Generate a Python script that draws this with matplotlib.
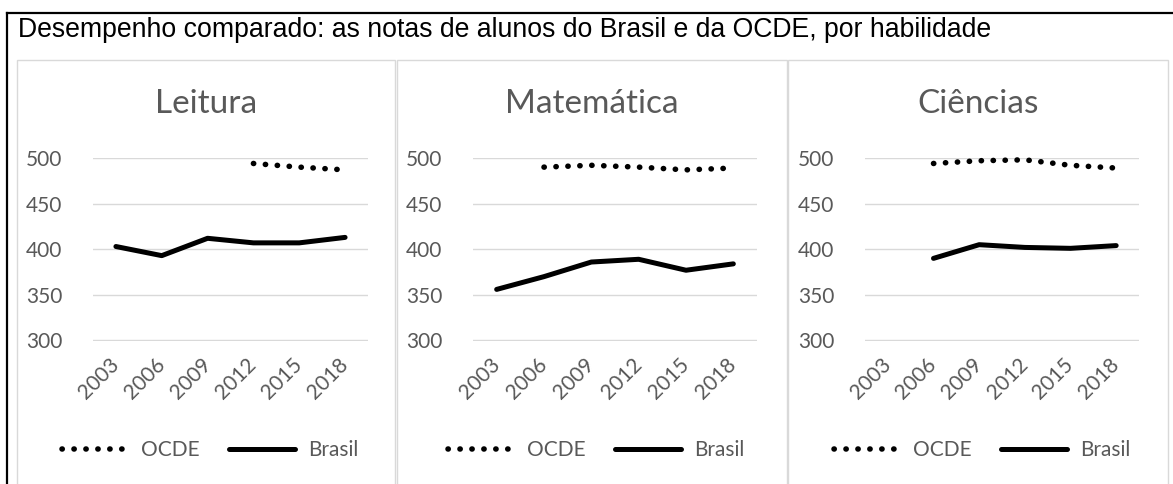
import matplotlib.pyplot as plt
from matplotlib.lines import Line2D
from matplotlib.patches import Rectangle

# ==================
# 1. Data
# ==================
anos = ['2003', '2006', '2009', '2012', '2015', '2018']

leitura_brasil = [403, 393, 412, 407, 407, 413]
leitura_ocde = [None, None, None, 494, 490, 487]

matematica_brasil = [356, 370, 386, 389, 377, 384]
matematica_ocde = [None, 490, 492, 490, 487, 489]

ciencias_brasil = [None, 390, 405, 402, 401, 404]
ciencias_ocde = [None, 494, 497, 498, 492, 489]

paineis = ['Leitura', 'Matemática', 'Ciências']
series_brasil = [leitura_brasil, matematica_brasil, ciencias_brasil]
series_ocde = [leitura_ocde, matematica_ocde, ciencias_ocde]

yticks = [300, 350, 400, 450, 500]

# ==================
# 2. Layout (pixels)
# ==================
W, H = 1173, 484
fig = plt.figure(figsize=(W / 100, H / 100), dpi=100)
fig.patch.set_facecolor('white')

GRAY = '#595959'
GRID = '#d9d9d9'
FONT = 'Lato'

def fx(px):
    return px / W

def fy(py):
    return 1 - py / H

# outer black frame (top and left)
fig.add_artist(Line2D([fx(7), 1.0], [fy(13), fy(13)], color='black', lw=1.6))
fig.add_artist(Line2D([fx(7), fx(7)], [fy(13), 0], color='black', lw=1.6))

fig.text(fx(18), fy(30), 'Desempenho comparado: as notas de alunos do Brasil e da OCDE, por habilidade',
         fontsize=19.2, family='Liberation Sans', color='black', va='center', ha='left')

# panel borders: (left, right) and axes (left, right)
panel_box = [(17, 395), (397, 787), (788, 1168)]
axes_box = [(93, 368), (473, 757), (865, 1139)]
ax_top, ax_bot = 158, 340.5

for i in range(3):
    pl, pr = panel_box[i]
    fig.add_artist(Rectangle((fx(pl), fy(H + 5)), fx(pr - pl), fy(60) - fy(H + 5),
                             transform=fig.transFigure, fill=False, edgecolor=GRID, lw=1.0))

    al, ar = axes_box[i]
    ax = fig.add_axes([fx(al), fy(ax_bot), fx(ar - al), fy(ax_top) - fy(ax_bot)])
    x = list(range(len(anos)))

    ocde = [v if v is not None else float('nan') for v in series_ocde[i]]
    brasil = [v if v is not None else float('nan') for v in series_brasil[i]]

    ax.plot(x, ocde, color='black', lw=4.0, linestyle=(0, (0.05, 2.1)),
            dash_capstyle='round', clip_on=False, label='OCDE', zorder=3)
    ax.plot(x, brasil, color='black', lw=3.6, solid_capstyle='round',
            solid_joinstyle='round', clip_on=False, label='Brasil', zorder=3)

    ax.set_xlim(-0.5, len(anos) - 0.5)
    ax.set_ylim(300, 500)
    ax.set_yticks(yticks)
    ax.set_xticks(x)
    ax.set_xticklabels(anos, rotation=45, ha='right', va='center', rotation_mode='anchor')
    ax.grid(axis='y', color=GRID, lw=1.0)
    ax.set_axisbelow(True)
    for s in ax.spines.values():
        s.set_visible(False)
    ax.tick_params(length=0, labelsize=15, labelcolor=GRAY, pad=10)
    ax.tick_params(axis='y', pad=22)
    ax.tick_params(axis='x', pad=15)
    for lab in ax.get_xticklabels() + ax.get_yticklabels():
        lab.set_family(FONT)

    centro = (pl + pr) / 2
    fig.text(fx(centro), fy(104), paineis[i], fontsize=24, family=FONT, color=GRAY,
             ha='center', va='center')

    leg = ax.legend(loc='center', bbox_to_anchor=(fx(centro + 4), fy(450)),
                    bbox_transform=fig.transFigure, ncol=2, frameon=False,
                    handlelength=3.2, handletextpad=0.6, columnspacing=1.4,
                    prop={'family': FONT, 'size': 15})
    for t in leg.get_texts():
        t.set_color(GRAY)

fig.savefig('out.png', dpi=100)
